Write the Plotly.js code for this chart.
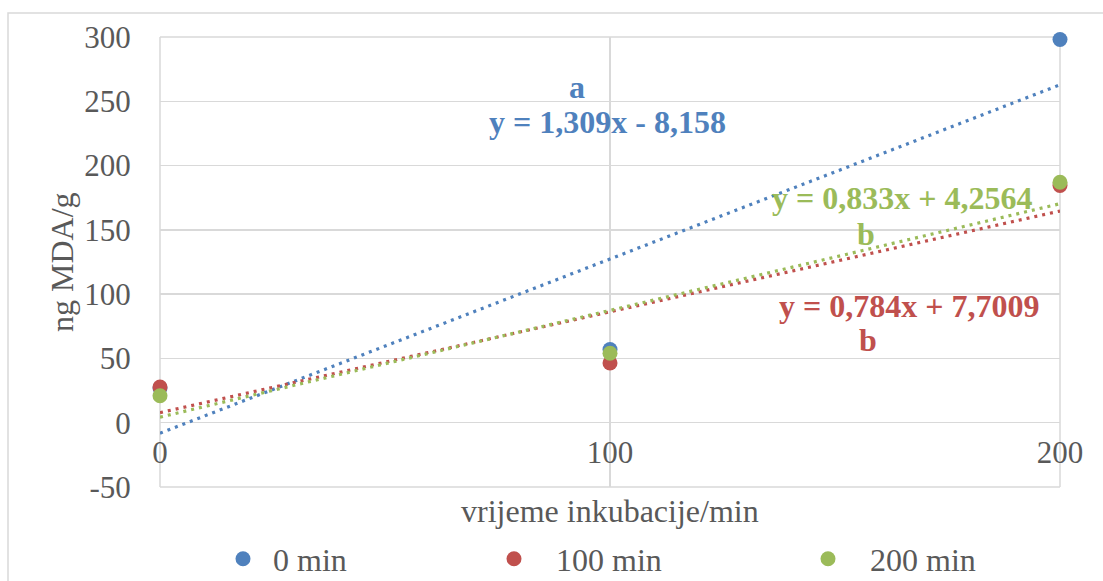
<!DOCTYPE html>
<html>
<head>
<meta charset="utf-8">
<script src="https://cdn.plot.ly/plotly-3.0.1.min.js"></script>
<style>html,body{margin:0;padding:0;background:#fff;}#chart{width:1103px;height:581px;}</style>
</head>
<body>
<div id="chart"></div>
<script>
// ---- data ----
const xValues = [0, 100, 200];
const seriesNames = ['0 min', '100 min', '200 min'];
const series0 = [27, 57, 298];
const series100 = [27.7, 46.5, 184.5];
const series200 = [21, 54, 187];
const equationTexts = ['y = 1,309x - 8,158', 'y = 0,784x + 7,7009', 'y = 0,833x + 4,2564'];
const groupLetters = ['a', 'b', 'b'];
const xTickVals = [0, 100, 200];
const yTickVals = [-50, 0, 50, 100, 150, 200, 250, 300];
const yTickText = ['-50', '0', '50', '100', '150', '200', '250', '300'];

const colors = ['#4F81BD', '#C0504D', '#9BBB59'];
const FONT = 'Liberation Serif, Times New Roman, serif';
const TXT = '#595959';
const allSeries = [series0, series100, series200];

// linear least-squares trendline, like the spreadsheet's
function linFit(xs, ys) {
  const n = xs.length;
  const mx = xs.reduce((a, b) => a + b, 0) / n;
  const my = ys.reduce((a, b) => a + b, 0) / n;
  let sxy = 0, sxx = 0;
  for (let i = 0; i < n; i++) { sxy += (xs[i] - mx) * (ys[i] - my); sxx += (xs[i] - mx) ** 2; }
  const m = sxy / sxx;
  return {m: m, b: my - m * mx};
}

const traces = [];
allSeries.forEach((s, i) => {
  const f = linFit(xValues, s);
  const xs = [xValues[0], xValues[xValues.length - 1]];
  traces.push({
    x: xs, y: xs.map(v => f.m * v + f.b),
    type: 'scatter', mode: 'lines', showlegend: false, hoverinfo: 'skip', cliponaxis: false,
    line: {color: colors[i], width: 3.2, dash: '3px,5px'}
  });
});
allSeries.forEach((s, i) => {
  traces.push({
    x: xValues, y: s, type: 'scatter', mode: 'markers', name: seriesNames[i],
    marker: {color: colors[i], size: 15}, cliponaxis: false,
    legend: i === 0 ? 'legend' : 'legend' + (i + 1),
    hoverinfo: 'skip'
  });
});

// annotation positions (layout only)
const eqPos = [[99.5, 234], [166.4, 91], [164.9, 175]];
const letterPos = [[92.7, 261.5], [157.3, 64.5], [156.9, 147]];
const annotations = [];
for (let i = 0; i < 3; i++) {
  annotations.push({x: eqPos[i][0], y: eqPos[i][1], xref: 'x', yref: 'y', text: '<b>' + equationTexts[i] + '</b>',
    showarrow: false, font: {family: FONT, size: 32, color: colors[i]}, xanchor: 'center', yanchor: 'middle'});
  annotations.push({x: letterPos[i][0], y: letterPos[i][1], xref: 'x', yref: 'y', text: '<b>' + groupLetters[i] + '</b>',
    showarrow: false, font: {family: FONT, size: 32, color: colors[i]}, xanchor: 'center', yanchor: 'middle'});
}
annotations.push({x: 0.5, y: (487 - 511) / 450, xref: 'paper', yref: 'paper', text: 'vrijeme inkubacije/min',
  showarrow: false, font: {family: FONT, size: 32, color: TXT}, xanchor: 'center', yanchor: 'middle'});
annotations.push({x: (62 - 160) / 900, y: 0.5, xref: 'paper', yref: 'paper', text: 'ng MDA/g', textangle: -90,
  showarrow: false, font: {family: FONT, size: 32, color: TXT}, xanchor: 'center', yanchor: 'middle'});

const legendBase = {orientation: 'h', yanchor: 'middle', y: (487 - 559) / 450, xanchor: 'left',
  font: {family: FONT, size: 32, color: TXT}, bgcolor: 'rgba(0,0,0,0)'};
const layout = {
  width: 1103, height: 581,
  margin: {l: 160, r: 43, t: 37, b: 94, pad: 0, autoexpand: false},
  paper_bgcolor: '#fff', plot_bgcolor: '#fff',
  font: {family: FONT, color: TXT, size: 31},
  xaxis: {range: [0, 200], tickvals: xTickVals, ticktext: xTickVals.map(String),
    anchor: 'free', position: 50 / 350, showgrid: true, gridcolor: '#D9D9D9', gridwidth: 1.5,
    zeroline: false, showline: false, ticks: 'outside', ticklen: 2, tickcolor: 'rgba(0,0,0,0)',
    tickfont: {family: FONT, size: 31, color: TXT}, fixedrange: true, automargin: false},
  yaxis: {range: [-50, 300], tickvals: yTickVals, ticktext: yTickText, showgrid: true, gridcolor: '#D9D9D9', gridwidth: 1.5,
    zeroline: false, showline: false, ticks: 'outside', ticklen: 22, tickcolor: 'rgba(0,0,0,0)',
    tickfont: {family: FONT, size: 31, color: TXT}, fixedrange: true, automargin: false},
  legend: Object.assign({}, legendBase, {x: (213 - 160) / 900, itemwidth: 50}),
  legend2: Object.assign({}, legendBase, {x: (472 - 160) / 900, itemwidth: 74}),
  legend3: Object.assign({}, legendBase, {x: (786 - 160) / 900, itemwidth: 74}),
  annotations: annotations,
  shapes: [
    {type: 'rect', xref: 'paper', yref: 'paper', x0: (8 - 160) / 900, x1: (1115 - 160) / 900,
     y0: (487 - 600) / 450, y1: (487 - 13) / 450, line: {color: '#D9D9D9', width: 1.5}, layer: 'below'},
    {type: 'line', xref: 'paper', yref: 'paper', x0: 0, x1: 0, y0: 0, y1: 1, line: {color: '#D9D9D9', width: 1.5}, layer: 'below'},
    {type: 'line', xref: 'paper', yref: 'paper', x0: 1, x1: 1, y0: 0, y1: 1, line: {color: '#D9D9D9', width: 1.5}, layer: 'below'},
    {type: 'line', xref: 'paper', yref: 'paper', x0: 0, x1: 1, y0: 0, y1: 0, line: {color: '#D9D9D9', width: 1.5}, layer: 'below'},
    {type: 'line', xref: 'paper', yref: 'paper', x0: 0, x1: 1, y0: 1, y1: 1, line: {color: '#D9D9D9', width: 1.5}, layer: 'below'}
  ],
  showlegend: true
};

Plotly.newPlot('chart', traces, layout, {staticPlot: true, displayModeBar: false});
</script>
</body>
</html>
